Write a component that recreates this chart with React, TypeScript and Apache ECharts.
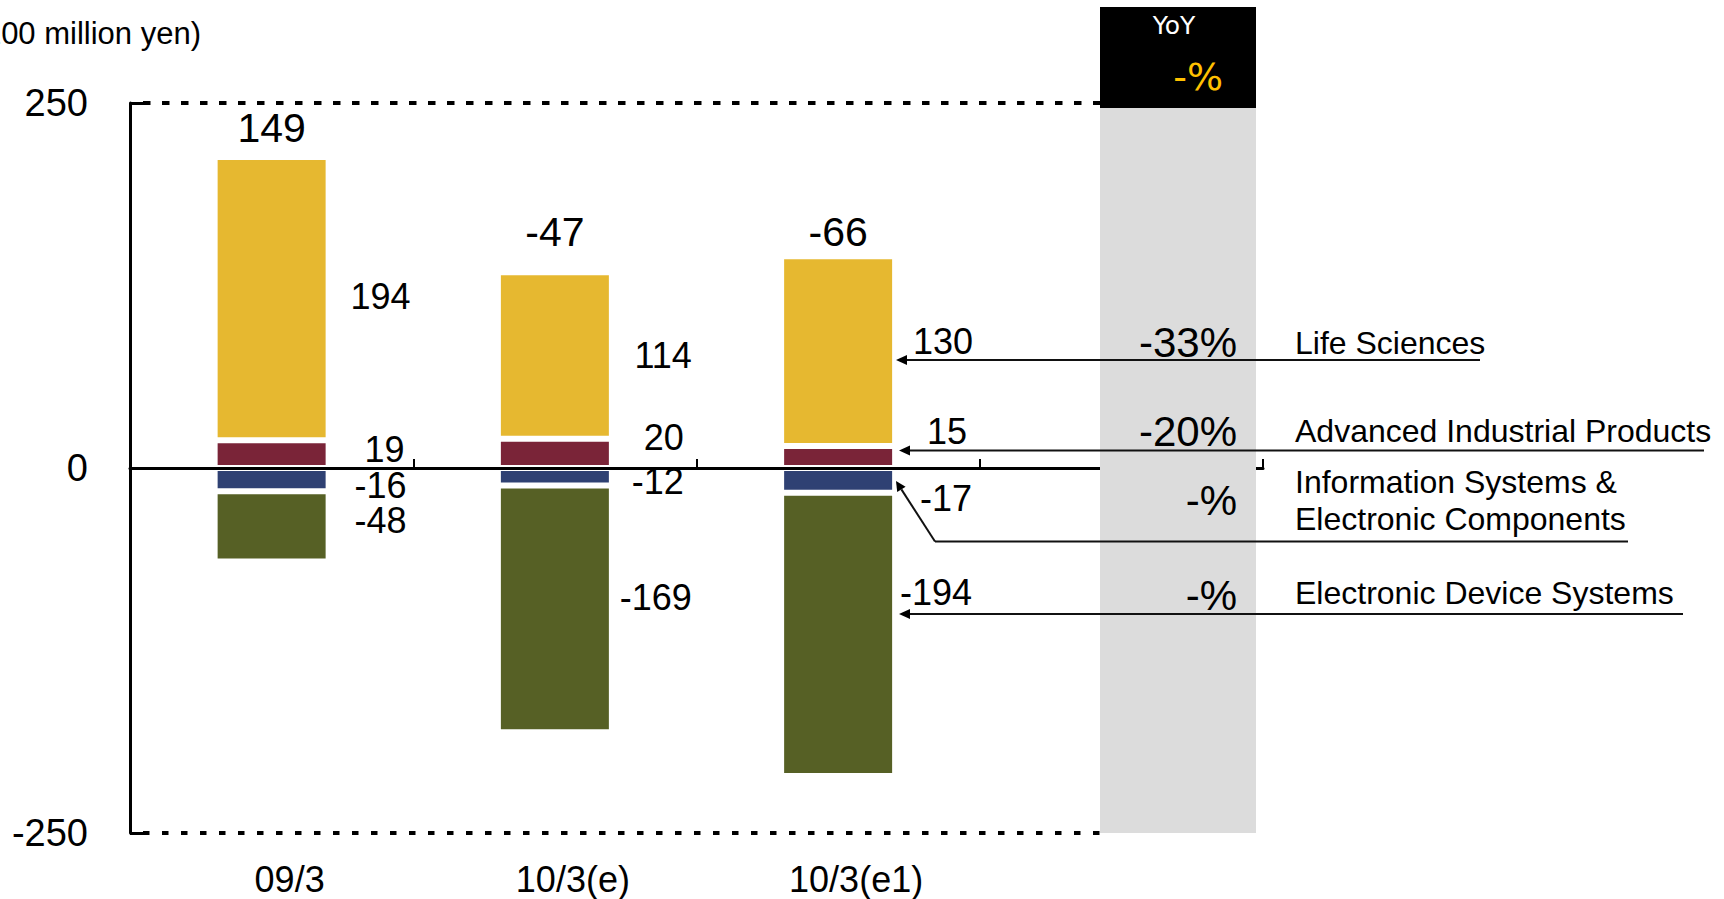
import React, { useEffect, useRef } from 'react';
import * as echarts from 'echarts';

// ---------- data ----------
const categories = ['09/3', '10/3(e)', '10/3(e1)', ''];
const lifeSciences = [194, 114, 130];
const advancedIndustrial = [19, 20, 15];
const infoSystems = [-16, -12, -17];
const electronicDevice = [-48, -169, -194];
const yoyLabels = ['-33%', '-20%', '-%', '-%'];
const segmentLabels = [
  'Life Sciences',
  'Advanced Industrial Products',
  'Information Systems &',
  'Electronic Components',
  'Electronic Device Systems',
];
const yMin = -250;
const yMax = 250;
const yStep = 250;
const unitLabel = '(100 million yen)';
const yoyHeader = 'YoY';
const yoyTotal = '-%';

// ---------- layout / style constants ----------
const FONT = '"Liberation Sans", Arial, sans-serif';
const COLORS = {
  ls: '#E6B830',
  aip: '#7A2438',
  isec: '#2F4173',
  eds: '#566025',
};
// label offsets [dx from bar right, dy from segment centre]
const lsOff = [[82, -2], [80, 0], [78, -10]];
const aipOff = [[76, -5], [72, -16], [72, -26]];
const isecOff = [[78, 6], [72, 5], [77, 18]];
const edsOff = [[78, -6], [80, -11], [77, -42]];
const totalOff = [-29, -40, -24];

const GRID = { left: 130, right: 461, top: 103, bottom: 66 };

function segSeries(name: string, values: number[], color: string, offs: number[][]) {
  return {
    name,
    type: 'bar',
    stack: 'total',
    barWidth: 114,
    xAxisIndex: 0,
    yAxisIndex: 0,
    itemStyle: { color, borderColor: '#fff', borderWidth: 3 },
    data: values.map((v, i) => ({
      value: v,
      label: { offset: offs[i] },
    })),
    label: {
      show: true,
      position: ['100%', '50%'],
      align: 'right',
      verticalAlign: 'middle',
      fontSize: 36,
      fontFamily: FONT,
      color: '#000',
    },
  };
}

export default function App() {
  const ref = useRef<HTMLDivElement>(null);

  useEffect(() => {
    if (!ref.current) return;
    const chart = echarts.init(ref.current, undefined, { renderer: 'svg' });

    const totals = lifeSciences.map(
      (v, i) => v + advancedIndustrial[i] + infoSystems[i] + electronicDevice[i]
    );
    const positiveTop = lifeSciences.map((v, i) => v + advancedIndustrial[i]);

    chart.setOption({
      animation: false,
      backgroundColor: '#fff',
      grid: { ...GRID, containLabel: false },
      xAxis: [
        {
          type: 'category',
          data: categories,
          position: 'bottom',
          z: 5,
          axisLine: { show: true, onZero: true, lineStyle: { color: '#000', width: 3 } },
          axisTick: { show: true, inside: true, length: 9, lineStyle: { color: '#000', width: 2 } },
          axisLabel: { show: false },
          splitLine: { show: false },
        },
        {
          type: 'category',
          data: categories,
          position: 'bottom',
          axisLine: { show: false, onZero: false },
          axisTick: { show: false },
          axisLabel: {
            show: true,
            fontSize: 36,
            fontFamily: FONT,
            color: '#000',
            margin: 28,
            padding: [0, 0, 0, 36],
          },
          splitLine: { show: false },
        },
      ],
      yAxis: {
        type: 'value',
        min: yMin,
        max: yMax,
        interval: yStep,
        axisLine: { show: true, lineStyle: { color: '#000', width: 3 } },
        axisTick: { show: true, inside: true, length: 13, lineStyle: { color: '#000', width: 3 } },
        axisLabel: { fontSize: 38, fontFamily: FONT, color: '#000', margin: 42 },
        splitLine: { show: false },
      },
      series: [
        segSeries('Advanced Industrial Products', advancedIndustrial, COLORS.aip, aipOff),
        segSeries('Life Sciences', lifeSciences, COLORS.ls, lsOff),
        segSeries('Information Systems & Electronic Components', infoSystems, COLORS.isec, isecOff),
        segSeries('Electronic Device Systems', electronicDevice, COLORS.eds, edsOff),
        {
          name: 'Total',
          type: 'scatter',
          xAxisIndex: 0,
          yAxisIndex: 0,
          symbol: 'circle',
          symbolSize: 1,
          itemStyle: { color: 'rgba(0,0,0,0)', opacity: 1 },
          data: positiveTop.map((v, i) => ({
            value: [categories[i], v],
            label: { offset: [0, totalOff[i]], formatter: String(totals[i]) },
          })),
          label: {
            show: true,
            position: 'inside',
            align: 'center',
            verticalAlign: 'middle',
            fontSize: 41,
            fontFamily: FONT,
            color: '#000',
            opacity: 1,
          },
          z: 6,
        },
      ],
    });

    const yTop = chart.convertToPixel({ yAxisIndex: 0 }, yMax) as number;
    const yBot = chart.convertToPixel({ yAxisIndex: 0 }, yMin) as number;

    const txt = (
      text: string,
      x: number,
      y: number,
      size: number,
      align: string,
      fill = '#000',
      family = FONT
    ) => ({
      type: 'text',
      x,
      y,
      z: 60,
      style: {
        text,
        fill,
        fontSize: size,
        fontFamily: family,
        align,
        verticalAlign: 'middle',
        textAlign: align,
        textVerticalAlign: 'middle',
      },
    });

    const lineEl = (x1: number, y1: number, x2: number, y2: number) => ({
      type: 'line',
      z: 55,
      shape: { x1, y1, x2, y2 },
      style: { stroke: '#111', lineWidth: 2 },
    });
    const arrowLeft = (tx: number, ty: number) => ({
      type: 'polygon',
      z: 55,
      shape: { points: [[tx, ty], [tx + 11, ty - 5], [tx + 11, ty + 5]] },
      style: { fill: '#000' },
    });

    const graphics: any[] = [
      // YoY column
      {
        type: 'rect',
        z: 50,
        shape: { x: 1100, y: 108, width: 156, height: yBot - 108 },
        style: { fill: '#DCDCDC' },
      },
      {
        type: 'rect',
        z: 50,
        shape: { x: 1100, y: 7, width: 156, height: 101 },
        style: { fill: '#000' },
      },
      // dashed limits
      {
        type: 'line',
        z: 40,
        shape: { x1: GRID.left + 13, y1: yTop, x2: 1100, y2: yTop },
        style: { stroke: '#000', lineWidth: 4, lineDash: [7.5, 11.5] },
      },
      {
        type: 'line',
        z: 40,
        shape: { x1: GRID.left + 13, y1: yBot, x2: 1100, y2: yBot },
        style: { stroke: '#000', lineWidth: 4, lineDash: [6.5, 12.5] },
      },
      txt(unitLabel, 201, 33, 31, 'right'),
      txt(yoyHeader, 1174, 25, 25, 'center', '#fff', '"DejaVu Sans", sans-serif'),
      txt(yoyTotal, 1223, 77, 38, 'right', '#FFC000', '"DejaVu Sans", sans-serif'),
      txt(yoyLabels[0], 1237, 342, 42, 'right'),
      txt(yoyLabels[1], 1237, 431, 42, 'right'),
      txt(yoyLabels[2], 1237, 500, 42, 'right'),
      txt(yoyLabels[3], 1237, 595, 42, 'right'),
      txt(segmentLabels[0], 1295, 343, 32, 'left'),
      txt(segmentLabels[1], 1295, 431, 32, 'left'),
      txt(segmentLabels[2], 1295, 482, 32, 'left'),
      txt(segmentLabels[3], 1295, 519, 32, 'left'),
      txt(segmentLabels[4], 1295, 593, 32, 'left'),
      // leader lines
      lineEl(905, 360, 1480, 360),
      arrowLeft(896, 360),
      lineEl(908, 450.5, 1704, 450.5),
      arrowLeft(899, 450.5),
      lineEl(908, 614, 1683, 614),
      arrowLeft(899, 614),
      lineEl(935, 541.5, 1628, 541.5),
      lineEl(935, 541.5, 901.4, 489.4),
      {
        type: 'polygon',
        z: 55,
        shape: { points: [[896, 481], [905.6, 486.7], [897.2, 492.1]] },
        style: { fill: '#000' },
      },
    ];

    chart.setOption({ graphic: { elements: graphics } });

    return () => {
      chart.dispose();
    };
  }, []);

  return (
    <div
      ref={ref}
      style={{ position: 'fixed', left: 0, top: 0, width: 1724, height: 899, background: '#fff' }}
    />
  );
}
